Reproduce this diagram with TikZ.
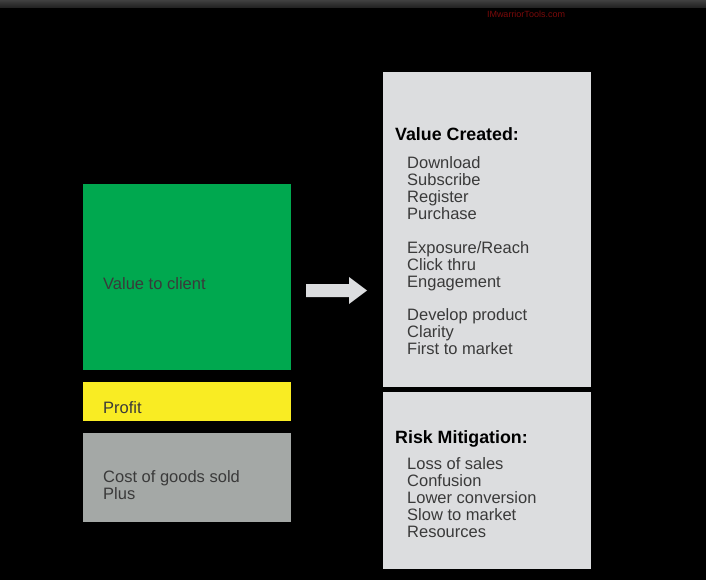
\documentclass[tikz,border=0pt]{standalone}
\usepackage{fontspec}
\setmainfont{Liberation Sans}
\definecolor{bggreen}{HTML}{00A84F}
\definecolor{bgyellow}{HTML}{F9EC23}
\definecolor{bggray}{HTML}{A4A8A6}
\definecolor{panel}{HTML}{DCDDDF}
\definecolor{txt}{HTML}{3A3A3A}
\definecolor{wm}{HTML}{7A0A0A}
\begin{document}
\begin{tikzpicture}[x=1pt,y=-1pt,
  blk/.style={inner sep=0pt, outer sep=0pt},
  body/.style={anchor=base west, inner sep=0pt, text=txt, font=\fontsize{16.5}{17}\selectfont},
  head/.style={anchor=base west, inner sep=0pt, text=black, font=\fontsize{17.8}{18}\selectfont\bfseries},
  list/.style={anchor=north west, inner sep=0pt, text=txt, align=left, font=\fontsize{16.5}{17}\selectfont}]
\useasboundingbox (0,0) rectangle (706,580);
\fill[black] (0,0) rectangle (706,580);
\shade[top color=black!75, bottom color=black!88] (0,0) rectangle (706,8);
\node[blk, text=wm, font=\fontsize{9}{10}\selectfont] (wm) at (526,14) {IMwarriorTools.com};
% left blocks
\fill[bggreen] (83,184) rectangle (291,370);
\fill[bgyellow] (83,382) rectangle (291,421);
\fill[bggray] (83,433) rectangle (291,522);
\node[body] (value) at (103,289) {Value to client};
\node[body] (profit) at (103,413) {Profit};
\node[body] (cost) at (103,482) {Cost of goods sold};
\node[body] (plus) at (103,499) {Plus};
% arrow
\fill[panel] (306,284) -- (349,284) -- (349,277) -- (367,290.5) -- (349,304) -- (349,297) -- (306,297) -- cycle;
% right panels
\fill[panel] (383,72) rectangle (591,387);
\fill[panel] (383,392) rectangle (591,569);
\node[head] (vc) at (395,141) {Value Created:};
\node[list] (g1) at (407,156) {Download\\Subscribe\\Register\\Purchase};
\node[list] (g2) at (407,241) {Exposure/Reach\\Click thru\\Engagement};
\node[list] (g3) at (407,308) {Develop product\\Clarity\\First to market};
\node[head] (rm) at (395,443) {Risk Mitigation:};
\node[list] (g4) at (407,457) {Loss of sales\\Confusion\\Lower conversion\\Slow to market\\Resources};
\end{tikzpicture}
\end{document}
